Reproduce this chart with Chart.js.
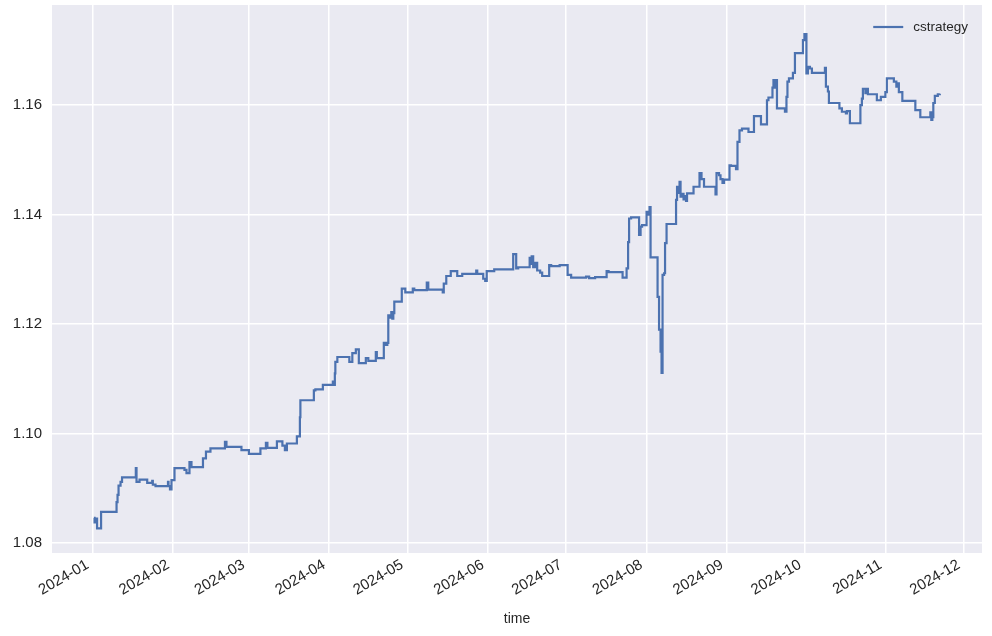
<!DOCTYPE html>
<html>
<head>
<meta charset="utf-8">
<script src="https://cdn.jsdelivr.net/npm/chart.js@4.4.1/dist/chart.umd.min.js"></script>
<style>
  html, body { margin: 0; padding: 0; background: #fff; }
  #chart { display: block; }
</style>
</head>
<body>
<canvas id="chart" width="992" height="636"></canvas>
<script>
// time in days since 2024-01-01, value holds until the next point
const days = [
  0.50, 0.77, 1.08, 1.73, 3.27, 9.22, 9.60, 9.99, 10.76, 11.33,
  16.63, 16.90, 18.06, 21.01, 22.94, 23.17, 24.20, 29.00, 29.20, 29.77,
  30.35, 31.50, 35.34, 36.11, 37.26, 38.03, 42.45, 43.60, 45.33, 50.90,
  51.48, 57.24, 60.12, 64.54, 66.65, 67.23, 70.88, 72.99, 73.95, 74.72,
  78.56, 79.72, 79.91, 85.09, 85.67, 88.55, 92.39, 92.78, 93.16, 93.35,
  94.12, 98.73, 99.88, 101.23, 102.38, 105.07, 106.03, 108.91, 109.30, 111.99,
  112.75, 113.33, 113.71, 114.48, 114.87, 115.25, 115.64, 116.02, 118.90, 120.25,
  123.13, 123.70, 128.51, 129.08, 134.65, 135.04, 136.00, 137.73, 140.22, 142.14,
  147.52, 147.91, 150.21, 150.98, 151.56, 154.44, 161.74, 162.89, 163.66, 168.07,
  168.46, 168.84, 169.42, 170.19, 170.96, 172.11, 172.88, 175.57, 176.34, 179.60,
  182.67, 184.02, 189.78, 190.93, 193.24, 197.66, 198.42, 203.80, 205.34, 205.92,
  206.30, 207.07, 210.14, 210.72, 211.29, 213.02, 213.60, 214.17, 214.56, 217.25,
  217.82, 218.40, 218.78, 219.17, 219.75, 220.13, 220.71, 224.36, 224.74, 225.32,
  225.70, 226.09, 226.66, 227.24, 227.81, 228.20, 228.58, 231.08, 233.38, 234.15,
  235.11, 239.53, 239.92, 240.88, 241.45, 242.22, 242.80, 244.91, 245.49, 247.41,
  247.98, 248.75, 249.71, 252.21, 254.32, 257.01, 259.32, 259.89, 261.43, 261.81,
  262.39, 262.77, 263.16, 266.23, 266.81, 267.19, 267.77, 269.30, 270.07, 273.15,
  273.72, 274.49, 275.07, 275.84, 276.60, 281.60, 281.98, 282.75, 283.14, 287.17,
  288.13, 289.67, 290.05, 291.20, 295.24, 295.81, 296.20, 297.16, 297.54, 298.12,
  301.57, 303.11, 304.84, 305.42, 308.11, 309.07, 309.64, 310.03, 311.37, 316.37,
  318.28, 322.13, 322.51, 322.90, 323.28, 323.86, 325.01, 325.78
];

const cstrategy = [
  1.0846, 1.0838, 1.0845, 1.0827, 1.0857, 1.0875, 1.0888, 1.0905, 1.0912, 1.0920,
  1.0937, 1.0912, 1.0916, 1.0910, 1.0914, 1.0907, 1.0904, 1.0912, 1.0904, 1.0898,
  1.0915, 1.0937, 1.0934, 1.0928, 1.0948, 1.0939, 1.0955, 1.0967, 1.0973, 1.0985,
  1.0976, 1.0970, 1.0963, 1.0973, 1.0983, 1.0974, 1.0986, 1.0978, 1.0970, 1.0982,
  1.0995, 1.1030, 1.1061, 1.1079, 1.1081, 1.1089, 1.1095, 1.1089, 1.1110, 1.1131,
  1.1140, 1.1131, 1.1147, 1.1154, 1.1129, 1.1138, 1.1133, 1.1149, 1.1138, 1.1166,
  1.1162, 1.1166, 1.1216, 1.1212, 1.1222, 1.1210, 1.1220, 1.1241, 1.1265, 1.1258,
  1.1265, 1.1262, 1.1276, 1.1263, 1.1258, 1.1274, 1.1288, 1.1297, 1.1288, 1.1292,
  1.1298, 1.1292, 1.1283, 1.1279, 1.1297, 1.1300, 1.1328, 1.1302, 1.1304, 1.1321,
  1.1310, 1.1324, 1.1304, 1.1312, 1.1298, 1.1294, 1.1288, 1.1308, 1.1306, 1.1308,
  1.1290, 1.1285, 1.1287, 1.1284, 1.1286, 1.1297, 1.1295, 1.1285, 1.1302, 1.1350,
  1.1393, 1.1395, 1.1363, 1.1378, 1.1381, 1.1405, 1.1400, 1.1414, 1.1322, 1.1250,
  1.1190, 1.1150, 1.1111, 1.1290, 1.1293, 1.1348, 1.1383, 1.1427, 1.1451, 1.1440,
  1.1460, 1.1433, 1.1438, 1.1428, 1.1434, 1.1425, 1.1439, 1.1451, 1.1476, 1.1465,
  1.1451, 1.1437, 1.1476, 1.1472, 1.1465, 1.1458, 1.1464, 1.1490, 1.1489, 1.1483,
  1.1533, 1.1554, 1.1557, 1.1551, 1.1580, 1.1565, 1.1609, 1.1614, 1.1632, 1.1646,
  1.1632, 1.1646, 1.1594, 1.1588, 1.1615, 1.1643, 1.1649, 1.1659, 1.1695, 1.1719,
  1.1730, 1.1658, 1.1670, 1.1667, 1.1659, 1.1668, 1.1634, 1.1625, 1.1604, 1.1594,
  1.1588, 1.1585, 1.1589, 1.1567, 1.1600, 1.1612, 1.1630, 1.1622, 1.1630, 1.1620,
  1.1609, 1.1615, 1.1624, 1.1649, 1.1643, 1.1634, 1.1640, 1.1624, 1.1608, 1.1591,
  1.1578, 1.1587, 1.1573, 1.1578, 1.1604, 1.1617, 1.1620, 1.1621
];

// month starts (days since 2024-01-01) and their labels
const monthDays = [0, 31, 60, 91, 121, 152, 182, 213, 244, 274, 305, 335];
const monthLabels = ['2024-01', '2024-02', '2024-03', '2024-04', '2024-05', '2024-06',
                     '2024-07', '2024-08', '2024-09', '2024-10', '2024-11', '2024-12'];
const yTicks = [1.08, 1.10, 1.12, 1.14, 1.16];

const fontFamily = "'Liberation Sans', Arial, Helvetica, sans-serif";
const textColor = '#262626';
const lineColor = '#4C72B0';

const plotBackground = {
  id: 'plotBackground',
  beforeDraw(chart) {
    const { ctx, chartArea } = chart;
    ctx.save();
    ctx.fillStyle = '#EAEAF2';
    ctx.fillRect(chartArea.left, chartArea.top, chartArea.right - chartArea.left, chartArea.bottom - chartArea.top);
    ctx.restore();
  }
};

// legend in the upper right corner, inside the plot
const cornerLegend = {
  id: 'cornerLegend',
  afterDraw(chart) {
    const { ctx, chartArea } = chart;
    const ds = chart.data.datasets[0];
    ctx.save();
    ctx.font = '13.5px ' + fontFamily;
    const textW = ctx.measureText(ds.label).width;
    const xText = chartArea.right - 14 - textW;
    const y = chartArea.top + 22;
    ctx.strokeStyle = ds.borderColor;
    ctx.lineWidth = 2.2;
    ctx.beginPath();
    ctx.moveTo(xText - 40, y);
    ctx.lineTo(xText - 10, y);
    ctx.stroke();
    ctx.fillStyle = textColor;
    ctx.textBaseline = 'middle';
    ctx.fillText(ds.label, xText, y);
    ctx.restore();
  }
};

function noEdgePadding(scale) {
  scale.paddingTop = 0;
  scale.paddingBottom = 0;
  scale.paddingLeft = 0;
  scale.paddingRight = 0;
}

new Chart(document.getElementById('chart'), {
  type: 'line',
  data: {
    datasets: [{
      label: 'cstrategy',
      data: days.map((d, i) => ({ x: d, y: cstrategy[i] })),
      borderColor: lineColor,
      backgroundColor: lineColor,
      borderWidth: 2.2,
      pointRadius: 0,
      stepped: 'before',
      fill: false
    }]
  },
  options: {
    responsive: false,
    animation: false,
    layout: { padding: { top: 5, right: 10, left: 0, bottom: 0 } },
    plugins: {
      legend: { display: false },
      tooltip: { enabled: false }
    },
    scales: {
      x: {
        type: 'linear',
        min: -15.6,
        max: 342,
        afterBuildTicks: scale => { scale.ticks = monthDays.map(v => ({ value: v })); },
        afterFit: scale => { scale.height = 83; noEdgePadding(scale); },
        ticks: {
          autoSkip: false,
          minRotation: 30,
          maxRotation: 30,
          padding: 3,
          labelOffset: -5,
          color: textColor,
          font: { family: fontFamily, size: 15 },
          callback: v => monthLabels[monthDays.indexOf(v)]
        },
        grid: { color: '#FFFFFF', lineWidth: 1.5, drawTicks: false },
        border: { display: false },
        title: {
          display: true,
          text: 'time',
          color: textColor,
          padding: { top: 4, bottom: 8 },
          font: { family: fontFamily, size: 14 }
        }
      },
      y: {
        min: 1.0782,
        max: 1.1783,
        afterBuildTicks: scale => { scale.ticks = yTicks.map(v => ({ value: v })); },
        afterFit: scale => { scale.width = 52; noEdgePadding(scale); },
        ticks: {
          padding: 10,
          color: textColor,
          font: { family: fontFamily, size: 15 },
          callback: v => v.toFixed(2)
        },
        grid: { color: '#FFFFFF', lineWidth: 1.5, drawTicks: false },
        border: { display: false }
      }
    }
  },
  plugins: [plotBackground, cornerLegend]
});
</script>
</body>
</html>
